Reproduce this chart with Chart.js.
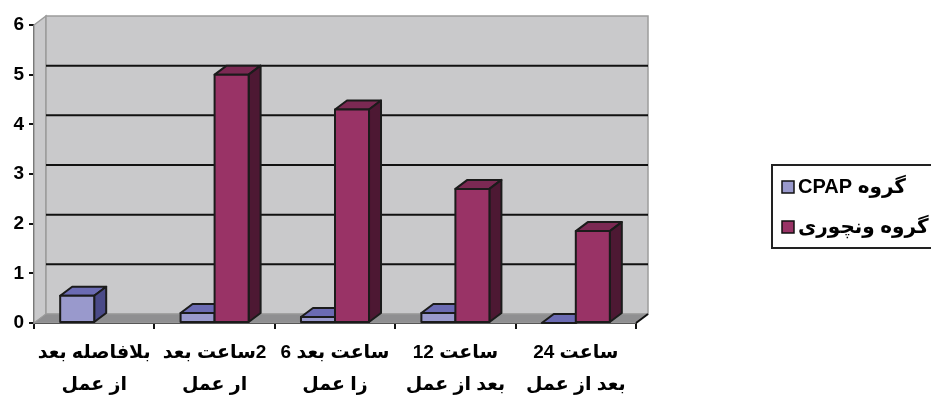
<!DOCTYPE html>
<html>
<head>
<meta charset="utf-8">
<script src="https://cdn.jsdelivr.net/npm/chart.js@4.4.1/dist/chart.umd.min.js"></script>
<style>
  html, body { margin: 0; padding: 0; background: #fff; }
  #wrap { width: 931px; height: 401px; }
</style>
</head>
<body>
<div id="wrap"><canvas id="grafico" dir="rtl" width="931" height="401"></canvas></div>
<script>
// categorias (duas linhas cada)
var categorias = [
  ["بلافاصله بعد", "از عمل"],
  ["2ساعت بعد", "ار عمل"],
  ["ساعت بعد 6", "زا عمل"],
  ["ساعت 12", "بعد از عمل"],
  ["ساعت 24", "بعد از عمل"]
];
var nomesSeries = ["گروه CPAP", "گروه ونچوری"];
var valoresCPAP    = [0.55, 0.2, 0.12, 0.2, 0];
var valoresVenturi = [null, 5, 4.3, 2.7, 1.85];
var ticksY = [0, 1, 2, 3, 4, 5, 6];

var FONTE = 'Arial, "Liberation Sans", "DejaVu Sans", sans-serif';
var DX = 12, DY = -9; // profundidade do efeito 3D

// cores: frente, topo, lado
var coresCPAP    = ["#9999cc", "#6b6bb3", "#4a4a88"];
var coresVenturi = ["#993366", "#7b2953", "#4d1833"];

function poligono(ctx, pts) {
  ctx.beginPath();
  ctx.moveTo(pts[0][0], pts[0][1]);
  for (var i = 1; i < pts.length; i++) ctx.lineTo(pts[i][0], pts[i][1]);
  ctx.closePath();
}

var efeito3D = {
  id: "efeito3D",
  beforeDatasetsDraw: function(chart) {
    var ctx = chart.ctx, a = chart.chartArea, y = chart.scales.y;
    ctx.save();
    // parede esquerda
    ctx.fillStyle = "#c9c9cb";
    ctx.strokeStyle = "#9c9c9c";
    ctx.lineWidth = 1.5;
    poligono(ctx, [[a.left, a.bottom], [a.left, a.top], [a.left + DX, a.top + DY], [a.left + DX, a.bottom + DY]]);
    ctx.fill(); ctx.stroke();
    // parede do fundo
    ctx.fillRect(a.left + DX, a.top + DY, a.right - a.left, a.bottom - a.top);
    ctx.strokeRect(a.left + DX, a.top + DY, a.right - a.left, a.bottom - a.top);
    // linhas de grade no fundo
    ctx.strokeStyle = "#111";
    ctx.lineWidth = 2;
    ticksY.forEach(function(v) {
      if (v === 0 || v === ticksY[ticksY.length - 1]) return;
      var py = y.getPixelForValue(v) + DY;
      ctx.beginPath();
      ctx.moveTo(a.left + DX, py);
      ctx.lineTo(a.right + DX, py);
      ctx.stroke();
    });
    // chão
    ctx.fillStyle = "#8f8f91";
    ctx.strokeStyle = "#9c9c9c";
    ctx.lineWidth = 1;
    poligono(ctx, [[a.left, a.bottom], [a.right, a.bottom], [a.right + DX, a.bottom + DY], [a.left + DX, a.bottom + DY]]);
    ctx.fill(); ctx.stroke();
    // diagonal do eixo x à direita
    ctx.strokeStyle = "#111";
    ctx.lineWidth = 2;
    ctx.beginPath();
    ctx.moveTo(a.right, a.bottom);
    ctx.lineTo(a.right + DX, a.bottom + DY);
    ctx.stroke();
    ctx.restore();
  },
  afterDatasetsDraw: function(chart) {
    var ctx = chart.ctx, itens = [];
    chart.data.datasets.forEach(function(ds, di) {
      var meta = chart.getDatasetMeta(di);
      meta.data.forEach(function(el, i) {
        if (ds.data[i] === null) return;
        itens.push({ el: el, cores: ds.cores3d });
      });
    });
    itens.sort(function(p, q) { return p.el.x - q.el.x; });

    ctx.save();
    ctx.lineWidth = 2;
    ctx.lineJoin = "round";
    ctx.strokeStyle = "#1b1b1b";
    itens.forEach(function(it) {
      var p = it.el.getProps(["x", "y", "base", "width"], true);
      var l = p.x - p.width / 2, r = p.x + p.width / 2;
      var t = Math.min(p.y, p.base), b = Math.max(p.y, p.base);
      // topo
      ctx.fillStyle = it.cores[1];
      poligono(ctx, [[l, t], [l + DX, t + DY], [r + DX, t + DY], [r, t]]);
      ctx.fill(); ctx.stroke();
      // lado
      ctx.fillStyle = it.cores[2];
      poligono(ctx, [[r, t], [r + DX, t + DY], [r + DX, b + DY], [r, b]]);
      ctx.fill(); ctx.stroke();
      // frente
      if (b - t > 0.5) {
        ctx.fillStyle = it.cores[0];
        ctx.fillRect(l, t, r - l, b - t);
        ctx.strokeRect(l, t, r - l, b - t);
      }
    });
    ctx.restore();
  },
  afterDraw: function(chart) {
    // legenda desenhada à mão (caixa cortada na borda direita)
    var ctx = chart.ctx;
    var lx = 772, ly = 165, lw = 200, lh = 83;
    ctx.save();
    ctx.fillStyle = "#fff";
    ctx.fillRect(lx, ly, lw, lh);
    ctx.strokeStyle = "#222";
    ctx.lineWidth = 2;
    ctx.strokeRect(lx, ly, lw, lh);
    chart.data.datasets.forEach(function(ds, i) {
      var sy = 181 + i * 40;
      ctx.fillStyle = ds.cores3d[0];
      ctx.fillRect(782, sy, 12, 12);
      ctx.strokeStyle = "#111";
      ctx.lineWidth = 1.5;
      ctx.strokeRect(782, sy, 12, 12);
      ctx.fillStyle = "#000";
      ctx.font = "bold 20px " + FONTE;
      ctx.direction = "rtl";
      ctx.textAlign = "left";
      ctx.textBaseline = "middle";
      ctx.fillText(ds.label, 798, sy + 6);
    });
    ctx.restore();
  }
};

new Chart(document.getElementById("grafico"), {
  type: "bar",
  data: {
    labels: categorias,
    datasets: [
      { label: nomesSeries[0], data: valoresCPAP, backgroundColor: "rgba(0,0,0,0)", borderWidth: 0, cores3d: coresCPAP },
      { label: nomesSeries[1], data: valoresVenturi, backgroundColor: "rgba(0,0,0,0)", borderWidth: 0, cores3d: coresVenturi }
    ]
  },
  options: {
    responsive: false,
    animation: false,
    devicePixelRatio: 1,
    layout: { padding: { left: 0, top: 25, right: 295, bottom: 0 } },
    datasets: { bar: { categoryPercentage: 0.565, barPercentage: 1 } },
    plugins: { legend: { display: false }, tooltip: { enabled: false } },
    scales: {
      x: {
        grid: { offset: true, drawOnChartArea: false, tickLength: 6, color: "#111", lineWidth: 2 },
        border: { display: true, color: "#111", width: 2 },
        ticks: {
          color: "#000",
          padding: 7,
          maxRotation: 0,
          autoSkip: false,
          font: { family: FONTE, size: 19, weight: "bold", lineHeight: 1.72 }
        },
        afterFit: function(s) { s.height = 78; }
      },
      y: {
        min: 0,
        max: 6,
        afterBuildTicks: function(s) { s.ticks = ticksY.map(function(v) { return { value: v }; }); },
        grid: { drawOnChartArea: false, tickLength: 5, color: "#111", lineWidth: 2 },
        border: { display: true, color: "#111", width: 2 },
        ticks: {
          color: "#000",
          padding: 5,
          font: { family: FONTE, size: 19, weight: "bold" }
        },
        afterFit: function(s) { s.width = 34; }
      }
    }
  },
  plugins: [efeito3D]
});
</script>
</body>
</html>
